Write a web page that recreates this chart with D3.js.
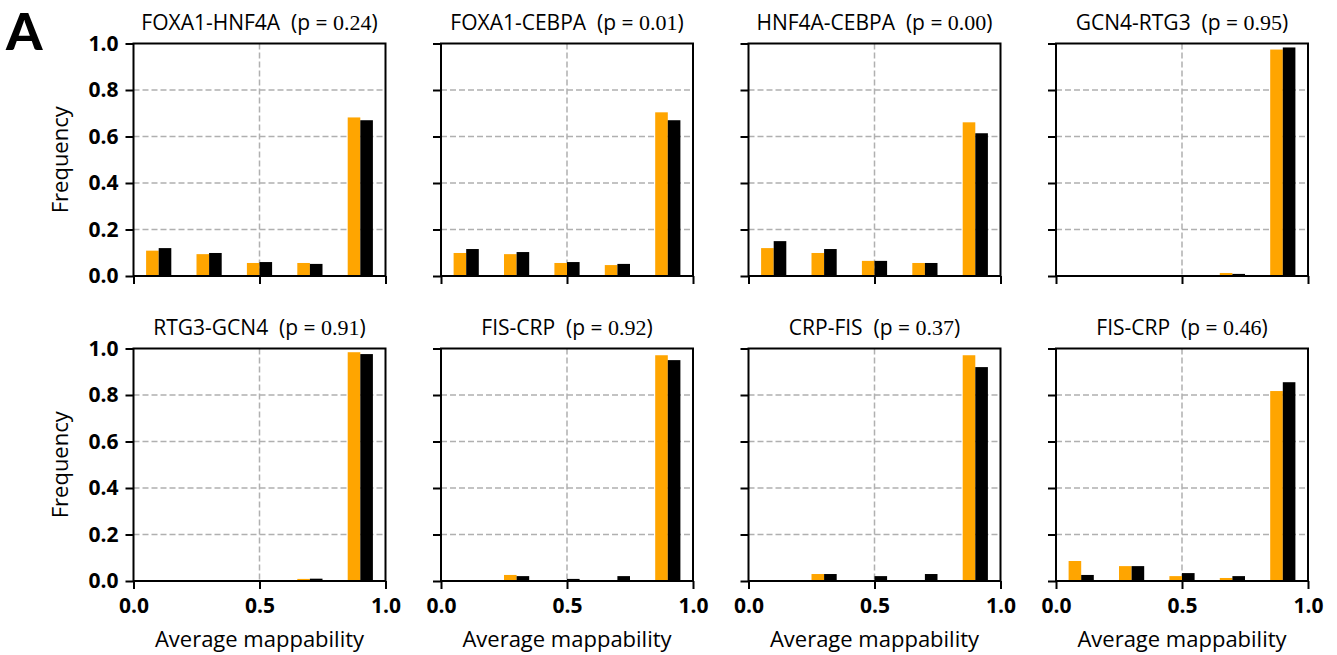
<!DOCTYPE html>
<html>
<head>
<meta charset="utf-8">
<script src="https://cdn.jsdelivr.net/npm/d3@7"></script>
<style>
  html, body { margin: 0; padding: 0; background: #fff; }
  svg { display: block; }
</style>
</head>
<body>
<svg id="chart" width="1337" height="655"></svg>
<script>
// ---------------- data ----------------
const panelNames = ["FOXA1-HNF4A", "FOXA1-CEBPA", "HNF4A-CEBPA", "GCN4-RTG3",
                    "RTG3-GCN4", "FIS-CRP", "CRP-FIS", "FIS-CRP"];
const pValues = ["0.24", "0.01", "0.00", "0.95", "0.91", "0.92", "0.37", "0.46"];
const binCenters = [0.1, 0.3, 0.5, 0.7, 0.9];
// orange series (first distribution), per panel, per bin
const orangeFreq = [
  [0.109, 0.094, 0.056, 0.056, 0.682],
  [0.099, 0.094, 0.056, 0.047, 0.704],
  [0.120, 0.099, 0.065, 0.056, 0.661],
  [0.001, 0.001, 0.001, 0.013, 0.974],
  [0.001, 0.002, 0.002, 0.009, 0.984],
  [0.000, 0.026, 0.000, 0.000, 0.971],
  [0.000, 0.030, 0.000, 0.000, 0.971],
  [0.086, 0.064, 0.021, 0.013, 0.817]
];
// black series (second distribution), per panel, per bin
const blackFreq = [
  [0.120, 0.099, 0.060, 0.052, 0.670],
  [0.116, 0.103, 0.060, 0.052, 0.670],
  [0.150, 0.116, 0.065, 0.056, 0.614],
  [0.000, 0.002, 0.001, 0.009, 0.983],
  [0.002, 0.002, 0.001, 0.010, 0.976],
  [0.003, 0.021, 0.009, 0.021, 0.950],
  [0.000, 0.030, 0.021, 0.030, 0.920],
  [0.026, 0.064, 0.034, 0.021, 0.855]
];
const xTicks = [0.0, 0.5, 1.0];
const yTicks = [0.0, 0.2, 0.4, 0.6, 0.8, 1.0];
const xGrid = [0.5];
const yGrid = [0.2, 0.4, 0.6, 0.8];
const xLabel = "Average mappability";
const yLabel = "Frequency";
const panelLetter = "A";

// ---------------- layout ----------------
const SANS = "'Open Sans', 'Noto Sans', sans-serif";
const SERIF = "'Liberation Serif', 'DejaVu Serif', serif";
const colLeft = [133.5, 441, 748.5, 1056];
const rowTop = [43.5, 348.5];
const W = 252, H = 232.5;
const halfBar = 0.05;
const ORANGE = "#ffa500";

const svg = d3.select("#chart");
svg.append("text")
  .attr("x", 6).attr("y", 50)
  .attr("font-family", "Lato, 'Open Sans', sans-serif")
  .attr("font-weight", 900)
  .attr("font-size", 52)
  .text(panelLetter);

const fmt = d3.format(".1f");

panelNames.forEach((name, i) => {
  const col = i % 4, row = Math.floor(i / 4);
  const g = svg.append("g").attr("transform", `translate(${colLeft[col]},${rowTop[row]})`);
  const x = d3.scaleLinear().domain([0, 1]).range([0, W]);
  const y = d3.scaleLinear().domain([0, 1]).range([H, 0]);

  // grid
  g.selectAll(".hg").data(yGrid).join("line")
    .attr("x1", 0).attr("x2", W)
    .attr("y1", d => y(d)).attr("y2", d => y(d))
    .attr("stroke", "#b0b0b0").attr("stroke-width", 1.5).attr("stroke-dasharray", "6,3");
  g.selectAll(".vg").data(xGrid).join("line")
    .attr("x1", d => x(d)).attr("x2", d => x(d))
    .attr("y1", 0).attr("y2", H)
    .attr("stroke", "#b0b0b0").attr("stroke-width", 1.5).attr("stroke-dasharray", "6,3");

  // bars
  g.selectAll(".ob").data(binCenters).join("rect")
    .attr("x", d => x(d - halfBar))
    .attr("width", x(halfBar) - x(0))
    .attr("y", (d, k) => y(orangeFreq[i][k]))
    .attr("height", (d, k) => H - y(orangeFreq[i][k]))
    .attr("fill", ORANGE);
  g.selectAll(".bb").data(binCenters).join("rect")
    .attr("x", d => x(d))
    .attr("width", x(halfBar) - x(0))
    .attr("y", (d, k) => y(blackFreq[i][k]))
    .attr("height", (d, k) => H - y(blackFreq[i][k]))
    .attr("fill", "#000");

  // axes
  const yAxis = d3.axisLeft(y).tickValues(yTicks).tickSize(8).tickPadding(7)
    .tickFormat(col === 0 ? fmt : () => "");
  const xAxis = d3.axisBottom(x).tickValues(xTicks).tickSize(8).tickPadding(9)
    .tickFormat(row === 1 ? fmt : () => "");
  const ya = g.append("g").call(yAxis);
  const xa = g.append("g").attr("transform", `translate(0,${H})`).call(xAxis);
  [ya, xa].forEach(a => {
    a.select(".domain").remove();
    a.selectAll(".tick line").attr("stroke", "#000").attr("stroke-width", 2);
    a.selectAll(".tick text")
      .attr("font-family", SANS).attr("font-weight", 700)
      .attr("font-size", 21).attr("fill", "#000");
  });

  // spines
  g.append("rect").attr("x", 0).attr("y", 0).attr("width", W).attr("height", H)
    .attr("fill", "none").attr("stroke", "#000").attr("stroke-width", 2);

  // title
  const t = g.append("text")
    .attr("x", W / 2).attr("y", -14)
    .attr("text-anchor", "middle")
    .attr("xml:space", "preserve")
    .style("white-space", "pre")
    .attr("font-family", SANS).attr("font-size", 21).attr("fill", "#000");
  t.append("tspan").text(name + "  (p = ");
  t.append("tspan").attr("font-family", SERIF).attr("font-size", 22).text(pValues[i]);
  t.append("tspan").text(")");

  // axis labels
  if (row === 1) {
    g.append("text")
      .attr("x", W / 2).attr("y", H + 66)
      .attr("text-anchor", "middle")
      .attr("font-family", SANS).attr("font-size", 22).attr("fill", "#000")
      .text(xLabel);
  }
  if (col === 0) {
    g.append("text")
      .attr("transform", `translate(${-66},${H / 2}) rotate(-90)`)
      .attr("text-anchor", "middle")
      .attr("font-family", SANS).attr("font-size", 22).attr("fill", "#000")
      .text(yLabel);
  }
});
</script>
</body>
</html>
